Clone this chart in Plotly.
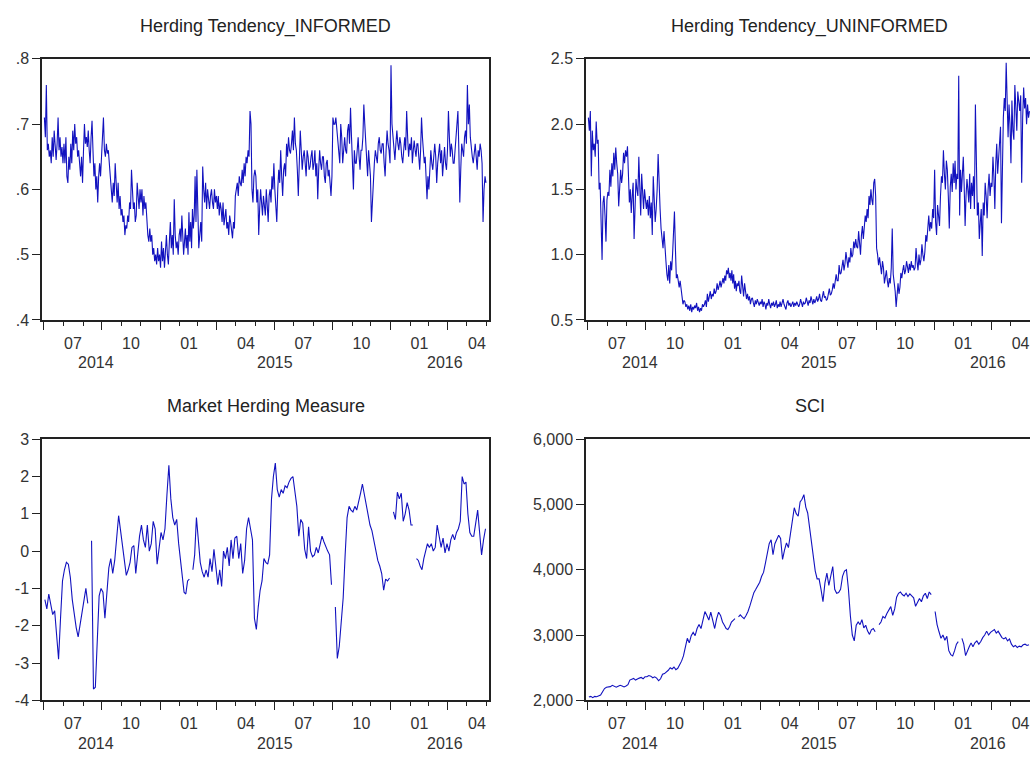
import pandas as pd
import plotly.graph_objects as go

# Observation grid: Jul 2014 - May 2016, evenly spaced inside each month
MONTHS = pd.period_range("2014-07", "2016-05", freq="M")

# Herding Tendency_INFORMED (20 readings per month, one row per month)
informed = [
    0.71, 0.68, 0.76, 0.66, 0.67, 0.65, 0.66, 0.64, 0.68, 0.65, 0.69, 0.66, 0.645, 0.67, 0.71, 0.66, 0.68, 0.65, 0.665, 0.64,  # 2014-07
    0.67, 0.64, 0.68, 0.62, 0.61, 0.65, 0.63, 0.67, 0.64, 0.69, 0.66, 0.70, 0.67, 0.68, 0.65, 0.66, 0.64, 0.62, 0.65, 0.61,    # 2014-08
    0.66, 0.70, 0.67, 0.68, 0.665, 0.69, 0.66, 0.64, 0.68, 0.705, 0.66, 0.62, 0.64, 0.60, 0.62, 0.58, 0.62, 0.64, 0.62, 0.65,  # 2014-09
    0.66, 0.71, 0.66, 0.65, 0.67, 0.655, 0.66, 0.645, 0.62, 0.60, 0.58, 0.61, 0.59, 0.64, 0.60, 0.58, 0.61, 0.57, 0.59, 0.56,  # 2014-10
    0.57, 0.55, 0.56, 0.53, 0.545, 0.54, 0.56, 0.55, 0.58, 0.57, 0.63, 0.59, 0.57, 0.58, 0.55, 0.56, 0.61, 0.59, 0.57, 0.60,   # 2014-11
    0.58, 0.60, 0.56, 0.59, 0.57, 0.58, 0.55, 0.53, 0.52, 0.54, 0.52, 0.53, 0.50, 0.51, 0.49, 0.50, 0.485, 0.51, 0.49, 0.50,   # 2014-12
    0.48, 0.52, 0.49, 0.51, 0.48, 0.50, 0.53, 0.50, 0.485, 0.52, 0.55, 0.51, 0.53, 0.50, 0.585, 0.53, 0.51, 0.52, 0.50, 0.53,  # 2015-01
    0.54, 0.52, 0.56, 0.53, 0.50, 0.52, 0.54, 0.51, 0.53, 0.50, 0.565, 0.52, 0.55, 0.51, 0.57, 0.54, 0.56, 0.62, 0.55, 0.63,   # 2015-02
    0.58, 0.51, 0.53, 0.55, 0.52, 0.635, 0.60, 0.58, 0.61, 0.57, 0.60, 0.58, 0.57, 0.59, 0.60, 0.58, 0.57, 0.60, 0.58, 0.59,   # 2015-03
    0.57, 0.59, 0.56, 0.58, 0.57, 0.55, 0.58, 0.545, 0.56, 0.57, 0.54, 0.55, 0.53, 0.56, 0.55, 0.53, 0.525, 0.55, 0.54, 0.59,  # 2015-04
    0.60, 0.61, 0.59, 0.62, 0.61, 0.605, 0.63, 0.61, 0.64, 0.62, 0.65, 0.64, 0.66, 0.65, 0.72, 0.70, 0.60, 0.58, 0.62, 0.63,   # 2015-05
    0.62, 0.58, 0.60, 0.53, 0.57, 0.60, 0.58, 0.56, 0.59, 0.57, 0.56, 0.60, 0.58, 0.55, 0.59, 0.60, 0.58, 0.62, 0.60, 0.64,    # 2015-06
    0.60, 0.58, 0.55, 0.60, 0.63, 0.61, 0.66, 0.62, 0.59, 0.63, 0.64, 0.62, 0.67, 0.65, 0.68, 0.66, 0.655, 0.67, 0.69, 0.66,   # 2015-07
    0.71, 0.67, 0.66, 0.63, 0.59, 0.64, 0.69, 0.66, 0.63, 0.65, 0.66, 0.64, 0.62, 0.66, 0.65, 0.63, 0.635, 0.65, 0.66, 0.63,   # 2015-08
    0.64, 0.66, 0.62, 0.64, 0.585, 0.63, 0.66, 0.64, 0.63, 0.65, 0.65, 0.62, 0.61, 0.64, 0.645, 0.62, 0.63, 0.61, 0.59, 0.62,  # 2015-09
    0.71, 0.70, 0.70, 0.71, 0.69, 0.67, 0.665, 0.64, 0.70, 0.68, 0.64, 0.67, 0.68, 0.66, 0.655, 0.69, 0.70, 0.67, 0.725, 0.68, # 2015-10
    0.63, 0.60, 0.66, 0.64, 0.64, 0.67, 0.68, 0.65, 0.63, 0.66, 0.66, 0.68, 0.73, 0.70, 0.67, 0.65, 0.62, 0.66, 0.64, 0.62,    # 2015-11
    0.55, 0.59, 0.61, 0.64, 0.66, 0.65, 0.64, 0.67, 0.68, 0.66, 0.655, 0.67, 0.67, 0.64, 0.62, 0.66, 0.69, 0.67, 0.66, 0.64,   # 2015-12
    0.79, 0.70, 0.68, 0.66, 0.645, 0.67, 0.69, 0.67, 0.66, 0.68, 0.67, 0.65, 0.64, 0.66, 0.68, 0.66, 0.72, 0.68, 0.65, 0.67,   # 2016-01
    0.66, 0.68, 0.64, 0.66, 0.675, 0.66, 0.65, 0.67, 0.67, 0.65, 0.63, 0.66, 0.71, 0.68, 0.66, 0.64, 0.65, 0.62, 0.585, 0.62,  # 2016-02
    0.60, 0.63, 0.66, 0.64, 0.63, 0.65, 0.67, 0.65, 0.61, 0.64, 0.655, 0.67, 0.64, 0.66, 0.62, 0.645, 0.665, 0.64, 0.63, 0.66, # 2016-03
    0.72, 0.68, 0.65, 0.67, 0.66, 0.64, 0.64, 0.66, 0.68, 0.70, 0.72, 0.66, 0.58, 0.63, 0.67, 0.66, 0.65, 0.68, 0.69, 0.67,    # 2016-04
    0.76, 0.70, 0.73, 0.68, 0.66, 0.65, 0.64, 0.66, 0.67, 0.65, 0.63, 0.66, 0.65, 0.67, 0.66, 0.64, 0.55, 0.60, 0.62, 0.61,    # 2016-05
]

# Herding Tendency_UNINFORMED (20 readings per month)
uninformed = [
    2.05, 1.95, 2.10, 1.60, 1.95, 1.80, 1.85, 1.75, 2.02, 1.85, 1.88, 1.50, 1.55, 1.25, 0.96, 1.40, 1.45, 1.30, 1.10, 1.42,  # 2014-07
    1.48, 1.45, 1.65, 1.52, 1.70, 1.60, 1.78, 1.65, 1.82, 1.70, 1.62, 1.37, 1.50, 1.65, 1.55, 1.62, 1.78, 1.70, 1.80, 1.75,  # 2014-08
    1.83, 1.55, 1.40, 1.50, 1.32, 1.45, 1.55, 1.12, 1.40, 1.58, 1.50, 1.45, 1.75, 1.55, 1.30, 1.62, 1.45, 1.35, 1.50, 1.40,  # 2014-09
    1.35, 1.42, 1.30, 1.45, 1.28, 1.40, 1.15, 1.60, 1.45, 1.25, 1.35, 1.50, 1.77, 1.50, 1.35, 1.20, 1.10, 1.05, 1.18, 1.00,  # 2014-10
    0.95, 0.85, 0.80, 0.92, 0.78, 0.95, 0.88, 1.00, 1.15, 1.33, 1.05, 0.82, 0.85, 0.78, 0.75, 0.80, 0.70, 0.68, 0.62, 0.65,  # 2014-11
    0.64, 0.60, 0.62, 0.58, 0.61, 0.57, 0.62, 0.56, 0.60, 0.58, 0.61, 0.59, 0.63, 0.57, 0.60, 0.56, 0.59, 0.57, 0.62, 0.60,  # 2014-12
    0.62, 0.65, 0.60, 0.70, 0.64, 0.68, 0.72, 0.66, 0.70, 0.68, 0.74, 0.70, 0.72, 0.78, 0.73, 0.76, 0.80, 0.75, 0.78, 0.82,  # 2015-01
    0.78, 0.84, 0.80, 0.88, 0.85, 0.90, 0.82, 0.86, 0.80, 0.88, 0.78, 0.85, 0.74, 0.80, 0.72, 0.78, 0.76, 0.80, 0.72, 0.70,  # 2015-02
    0.84, 0.75, 0.68, 0.78, 0.72, 0.66, 0.70, 0.65, 0.68, 0.62, 0.66, 0.67, 0.63, 0.60, 0.65, 0.62, 0.66, 0.63, 0.61, 0.64,  # 2015-03
    0.62, 0.66, 0.60, 0.64, 0.62, 0.58, 0.63, 0.61, 0.66, 0.62, 0.59, 0.63, 0.61, 0.64, 0.60, 0.62, 0.65, 0.59, 0.62, 0.60,  # 2015-04
    0.64, 0.60, 0.63, 0.66, 0.62, 0.60, 0.58, 0.63, 0.65, 0.61, 0.63, 0.60, 0.62, 0.64, 0.60, 0.63, 0.61, 0.64, 0.62, 0.60,  # 2015-05
    0.62, 0.66, 0.63, 0.60, 0.64, 0.62, 0.63, 0.67, 0.64, 0.61, 0.65, 0.63, 0.68, 0.64, 0.62, 0.66, 0.63, 0.65, 0.68, 0.64,  # 2015-06
    0.66, 0.70, 0.65, 0.64, 0.68, 0.72, 0.67, 0.68, 0.65, 0.66, 0.70, 0.74, 0.69, 0.70, 0.73, 0.78, 0.74, 0.82, 0.85, 0.80,  # 2015-07
    0.80, 0.92, 0.85, 0.86, 0.90, 0.96, 0.88, 0.93, 1.02, 0.95, 0.90, 0.98, 0.94, 1.05, 0.98, 1.00, 1.10, 1.05, 1.12, 1.06,  # 2015-08
    1.05, 1.18, 1.10, 1.00, 1.15, 1.22, 1.12, 1.20, 1.30, 1.25, 1.35, 1.28, 1.45, 1.38, 1.50, 1.42, 1.38, 1.55, 1.58, 1.45,  # 2015-09
    1.05, 1.00, 0.92, 0.98, 0.88, 0.85, 0.95, 0.90, 0.78, 0.85, 0.88, 0.80, 0.75, 0.82, 0.78, 0.90, 1.20, 0.85, 0.80, 0.72,  # 2015-10
    0.60, 0.72, 0.78, 0.70, 0.75, 0.86, 0.82, 0.88, 0.92, 0.85, 0.88, 0.95, 0.90, 0.86, 0.93, 0.88, 0.95, 0.90, 0.92, 0.88,  # 2015-11
    0.90, 1.05, 0.95, 0.88, 1.00, 0.92, 0.96, 1.08, 1.00, 0.95, 1.02, 1.15, 1.10, 1.22, 1.30, 1.18, 1.25, 1.20, 1.35, 1.28,  # 2015-12
    1.65, 1.25, 1.15, 1.38, 1.30, 1.22, 1.45, 1.60, 1.55, 1.80, 1.62, 1.50, 1.72, 1.65, 1.45, 1.20, 1.52, 1.62, 1.48, 1.70,  # 2016-01
    1.55, 1.72, 1.50, 1.62, 1.58, 2.37, 1.30, 1.65, 1.48, 1.60, 1.75, 1.52, 1.22, 1.45, 1.58, 1.50, 1.40, 1.62, 1.35, 1.55,  # 2016-02
    1.45, 1.60, 1.35, 2.15, 1.48, 1.30, 1.40, 1.12, 1.25, 1.35, 0.99, 1.40, 1.30, 1.55, 1.45, 1.28, 1.50, 1.62, 1.45, 1.55,  # 2016-03
    1.52, 1.75, 1.60, 1.35, 1.70, 1.85, 1.62, 1.75, 1.80, 1.98, 1.24, 1.85, 2.05, 2.20, 2.10, 2.47, 2.05, 1.90, 2.15, 2.00,  # 2016-04
    1.70, 2.18, 1.95, 1.88, 2.30, 2.05, 1.95, 2.25, 2.15, 2.10, 2.22, 1.55, 2.05, 2.28, 2.12, 2.20, 2.00, 2.15, 2.05, 2.10,  # 2016-05
]

# Market Herding Measure (10 readings per month; None = missing)
market = [
    -1.30, -1.55, -1.15, -1.45, -1.70, -1.60, -2.30, -2.90, -1.80, -0.80,  # 2014-07
    -0.50, -0.30, -0.35, -0.70, -1.30, -1.70, -2.05, -2.30, -1.95, -1.60,  # 2014-08
    -1.30, -1.00, -1.40, None, 0.28, -3.70, -3.65, -2.20, -1.20, -1.00,    # 2014-09
    -1.10, -1.80, -1.20, -0.45, -0.20, -0.60, -0.25, 0.30, 0.95, 0.55,     # 2014-10
    0.10, -0.30, -0.65, -0.50, -0.30, 0.10, 0.15, -0.60, -0.10, 0.40,      # 2014-11
    0.70, 0.30, 0.10, 0.70, 0.00, 0.20, 0.80, 0.60, -0.35, 0.15,           # 2014-12
    0.50, 0.30, 0.60, 1.50, 2.30, 1.40, 0.90, 0.70, 0.85, 0.20,            # 2015-01
    -0.30, -0.60, -1.10, -1.15, -0.80, -0.75, None, -0.50, -0.10, 0.90,    # 2015-02
    0.20, -0.30, -0.55, -0.70, -0.50, -0.70, -0.20, -0.55, 0.05, -0.45,    # 2015-03
    -0.90, -0.50, -0.95, 0.00, -0.20, 0.10, -0.40, 0.30, -0.20, 0.35,      # 2015-04
    0.40, -0.20, 0.20, -0.60, -0.25, 0.60, 0.90, 0.60, 0.30, -1.80,        # 2015-05
    -2.10, -1.50, -1.05, -0.80, -0.20, -0.30, -0.35, -0.10, 1.40, 2.00,    # 2015-06
    2.36, 1.65, 1.45, 1.65, 1.55, 1.75, 1.70, 1.85, 1.95, 2.00,            # 2015-07
    1.60, 1.20, 0.40, 0.85, 0.75, 0.05, -0.20, 0.65, 0.00, -0.15,          # 2015-08
    -0.10, 0.10, -0.05, 0.15, 0.40, 0.25, 0.10, 0.00, -0.10, -0.90,        # 2015-09
    None, -1.50, -2.88, -2.55, -1.90, -1.25, -0.10, 0.90, 1.20, 1.10,      # 2015-10
    1.05, 1.20, 1.10, 1.30, 1.55, 1.80, 1.50, 1.20, 1.00, 0.70,            # 2015-11
    0.55, 0.30, 0.00, -0.25, -0.40, -0.60, -1.05, -0.75, -0.80, -0.72,     # 2015-12
    None, 1.05, 0.85, 1.58, 1.40, 1.55, 0.80, 1.00, 1.30, 1.10,            # 2016-01
    0.70, 0.70, None, -0.20, -0.25, -0.40, -0.50, -0.20, 0.00, 0.20,       # 2016-02
    0.10, 0.20, 0.00, 0.10, 0.70, 0.40, 0.10, 0.35, -0.05, 0.20,           # 2016-03
    0.00, 0.30, 0.45, 0.30, 0.50, 0.60, 0.80, 2.00, 1.80, 1.85,            # 2016-04
    1.00, 0.50, 0.40, 0.40, 0.80, 1.10, 0.50, -0.10, 0.30, 0.60,           # 2016-05
]

# SCI index level (10 readings per month; None = market closed)
sci = [
    2050, 2060, 2040, 2060, 2055, 2070, 2080, 2130, 2180, 2200,   # 2014-07
    2200, 2210, 2230, 2220, 2200, 2215, 2230, 2220, 2205, 2220,   # 2014-08
    2240, 2310, 2320, 2335, 2310, 2330, 2340, 2350, 2330, 2360,   # 2014-09
    2360, 2380, 2370, 2345, 2360, 2340, 2300, 2330, 2400, 2410,   # 2014-10
    2430, 2460, 2500, 2480, 2510, 2470, 2490, 2540, 2600, 2680,   # 2014-11
    2800, 2950, 2880, 2990, 3040, 2990, 3100, 3160, 3100, 3220,   # 2014-12
    3360, 3300, 3230, 3350, 3200, 3100, 3250, 3350, 3300, 3200,   # 2015-01
    3150, 3100, 3085, 3130, 3200, 3230, 3250, None, 3280, 3310,   # 2015-02
    3280, 3250, 3300, 3360, 3450, 3560, 3650, 3700, 3760, 3810,   # 2015-03
    3900, 3960, 4100, 4260, 4400, 4460, 4230, 4400, 4480, 4530,   # 2015-04
    4480, 4160, 4300, 4410, 4340, 4550, 4700, 4950, 4860, 4820,   # 2015-05
    5040, 5080, 5150, 4960, 4870, 4660, 4470, 4260, 3980, 3860,   # 2015-06
    3860, 3700, 3510, 3800, 3950, 3760, 3900, 4050, 3700, 3640,   # 2015-07
    3650, 3700, 3900, 3980, 4000, 3710, 3300, 3000, 2910, 3150,   # 2015-08
    3200, 3160, 3235, 3110, 3150, 3060, 3010, 3080, 3100, 3050,   # 2015-09
    None, 3160, 3200, 3285, 3260, 3330, 3380, 3435, 3300, 3400,   # 2015-10
    3580, 3640, 3660, 3620, 3600, 3640, 3590, 3630, 3600, 3570,   # 2015-11
    3440, 3500, 3560, 3510, 3600, 3640, 3560, 3660, 3620, None,   # 2015-12
    3360, 3160, 3050, 2950, 3000, 2920, 2980, 2760, 2700, 2680,   # 2016-01
    2760, 2860, 2900, None, 2950, 2860, 2685, 2740, 2820, 2880,   # 2016-02
    2820, 2880, 2910, 2860, 2900, 2960, 3000, 3060, 3000, 3040,   # 2016-03
    3060, 3085, 3030, 3060, 3010, 2960, 2940, 2960, 2910, 2940,   # 2016-04
    2860, 2820, 2840, 2810, 2830, 2820, 2850, 2860, 2840, 2850,   # 2016-05
]

# Axis tick labels
y_ticks_informed = [0.4, 0.5, 0.6, 0.7, 0.8]
y_text_informed = [".4", ".5", ".6", ".7", ".8"]
y_ticks_uninformed = [0.5, 1.0, 1.5, 2.0, 2.5]
y_text_uninformed = ["0.5", "1.0", "1.5", "2.0", "2.5"]
y_ticks_market = [-4, -3, -2, -1, 0, 1, 2, 3]
y_text_market = ["-4", "-3", "-2", "-1", "0", "1", "2", "3"]
y_ticks_sci = [2000, 3000, 4000, 5000, 6000]
y_text_sci = ["2,000", "3,000", "4,000", "5,000", "6,000"]
year_labels = ["2014", "2015", "2016"]
year_dates = ["2014-09-22", "2015-07-02", "2016-03-27"]


def month_grid(months, n):
    """n evenly spaced observation dates inside each month."""
    out = []
    for p in months:
        start = p.start_time
        days = p.days_in_month
        for i in range(n):
            out.append(start + pd.Timedelta(days=(i + 0.5) * days / n))
    return out


dates_fine = month_grid(MONTHS, 20)
dates_coarse = month_grid(MONTHS, 10)
assert len(informed) == len(dates_fine), len(informed)
assert len(uninformed) == len(dates_fine), len(uninformed)
assert len(market) == len(dates_coarse), len(market)
assert len(sci) == len(dates_coarse), len(sci)

LINE = "#1212bf"
AXIS = "#222222"
TEXT = "#333333"
FONT = "Liberation Sans, Arial, sans-serif"

fig = go.Figure()
panels = [
    (dates_fine, informed, "x", "y"),
    (dates_fine, uninformed, "x2", "y2"),
    (dates_coarse, market, "x3", "y3"),
    (dates_coarse, sci, "x4", "y4"),
]
for xs, values, xa, ya in panels:
    fig.add_trace(go.Scatter(
        x=xs, y=values, xaxis=xa, yaxis=ya, mode="lines",
        line=dict(color=LINE, width=1.1), connectgaps=False,
        hoverinfo="skip",
    ))

W, H = 1030, 767
left_dom = [42 / W, 489 / W]
right_dom = [586 / W, 1.0]
top_dom = [1 - 319 / H, 1 - 52 / H]
bot_dom = [1 - 708 / H, 1 - 441 / H]

left_range = ["2014-06-28", "2016-06-05"]
right_range = ["2014-06-28", "2016-06-01"]


def xaxis_style(domain, rng, anchor):
    # quarter ticks (long) carry the month label, shifted to the middle
    # of the quarter; monthly minor ticks in between
    return dict(
        domain=domain, range=rng, anchor=anchor, type="date",
        tick0="2014-07-01", dtick="M3", tickformat="%m",
        ticklabelshift=29,
        ticks="outside", ticklen=8, tickwidth=1.3,
        tickcolor=AXIS, showline=True, linecolor=AXIS, linewidth=1.5,
        mirror=True, showgrid=False, zeroline=False,
        tickfont=dict(family=FONT, size=16, color=TEXT),
        minor=dict(dtick="M1", tick0="2014-07-01", ticks="outside",
                   ticklen=4, tickwidth=1.1, tickcolor=AXIS, showgrid=False),
    )


def yaxis_style(domain, rng, vals, text, anchor, mirror):
    return dict(
        domain=domain, range=rng, anchor=anchor,
        tickvals=vals, ticktext=text, ticks="outside", ticklen=8,
        tickwidth=1.3, tickcolor=AXIS, showline=True, linecolor=AXIS,
        linewidth=1.5, mirror=mirror, showgrid=False, zeroline=False,
        tickfont=dict(family=FONT, size=16, color=TEXT),
    )


fig.update_layout(
    width=W, height=H,
    margin=dict(l=0, r=0, t=0, b=0),
    paper_bgcolor="white", plot_bgcolor="white",
    showlegend=False,
    font=dict(family=FONT, size=16, color=TEXT),
    xaxis=xaxis_style(left_dom, left_range, "y"),
    yaxis=yaxis_style(top_dom, [0.4, 0.8], y_ticks_informed, y_text_informed, "x", True),
    xaxis2=xaxis_style(right_dom, right_range, "y2"),
    yaxis2=yaxis_style(top_dom, [0.5, 2.5], y_ticks_uninformed, y_text_uninformed, "x2", False),
    xaxis3=xaxis_style(left_dom, left_range, "y3"),
    yaxis3=yaxis_style(bot_dom, [-4, 3], y_ticks_market, y_text_market, "x3", True),
    xaxis4=xaxis_style(right_dom, right_range, "y4"),
    yaxis4=yaxis_style(bot_dom, [2000, 6000], y_ticks_sci, y_text_sci, "x4", False),
)

titles = [
    ("Herding Tendency_INFORMED", (42 + 489) / 2 / W, 1 - 19 / H),
    ("Herding Tendency_UNINFORMED", (586 + 1033) / 2 / W, 1 - 19 / H),
    ("Market Herding Measure", (42 + 489) / 2 / W, 1 - 407.5 / H),
    ("SCI", (586 + 1033) / 2 / W, 1 - 407.5 / H),
]
for text, x, y in titles:
    fig.add_annotation(text=text, x=x, y=y, xref="paper", yref="paper",
                       xanchor="center", yanchor="middle", showarrow=False,
                       font=dict(family=FONT, size=18, color="#222222"))

# Year labels under the month labels
for xa, ypix in (("x", 363), ("x2", 363), ("x3", 752), ("x4", 752)):
    for label, d in zip(year_labels, year_dates):
        fig.add_annotation(text=label, x=d, y=1 - ypix / H, xref=xa,
                           yref="paper", xanchor="center", yanchor="middle",
                           showarrow=False,
                           font=dict(family=FONT, size=16, color=TEXT))

fig.write_html("out.html")
